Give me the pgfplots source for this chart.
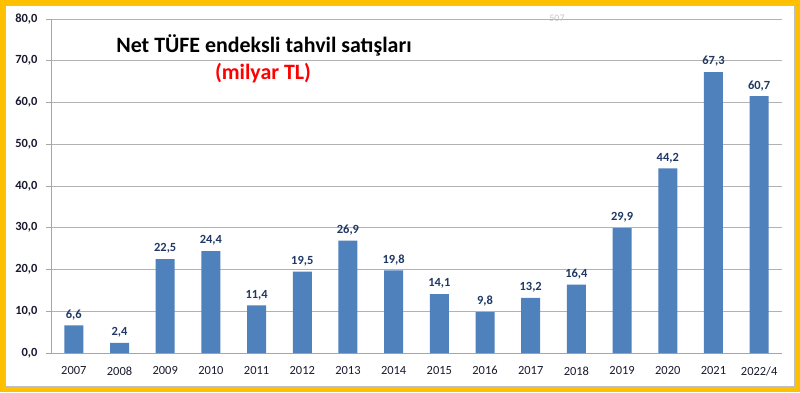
\documentclass[border=0pt]{standalone}
\usepackage{pgfplots}
\pgfplotsset{compat=1.18}
\usepackage{fontspec}
\setmainfont{Carlito}
\definecolor{frameor}{HTML}{FFC000}
\definecolor{barblue}{HTML}{4F81BD}
\definecolor{lblblue}{HTML}{1F3864}
\definecolor{ticktxt}{HTML}{1A1A2E}
\begin{document}
\begin{tikzpicture}[x=1bp,y=1bp]
\fill[frameor] (0,0) rectangle (800,392);
\fill[white] (5,5) rectangle (795,387);
\draw[gray!50,line width=0.8bp] (5.5,5.5) rectangle (794.5,386.5);
\begin{axis}[
  at={(51bp,39bp)}, anchor=south west,
  scale only axis, width=731bp, height=334bp,
  xmin=-0.5, xmax=15.5, ymin=0, ymax=80,
  ytick={0,10,...,80},
  ymajorgrids, grid style={gray!60, line width=0.8bp},
  axis x line*=bottom, axis y line*=left,
  axis line style={gray!70, line width=0.8bp},
  x axis line style={-}, y axis line style={-},
  xtick={0,...,15},
  xticklabels={2007,2008,2009,2010,2011,2012,2013,2014,2015,2016,2017,2018,2019,2020,2021,2022/4},
  extra x ticks={-0.5,0.5,...,15.5}, extra x tick labels={},
  extra x tick style={major tick length=5bp, tick style={gray!70, line width=0.8bp}, grid=none},
  major x tick style={draw=none},
  major tick length=5bp,
  tick style={gray!70, line width=0.8bp},
  tick align=outside,
  x tick label style={font=\fontsize{12.5}{14}\selectfont, text=ticktxt, yshift=-5bp},
  y tick label style={font=\bfseries\fontsize{12.5}{14}\selectfont, text=ticktxt, xshift=-5bp, /pgf/number format/.cd, fixed, fixed zerofill, precision=1, use comma},
  /pgf/number format/assume math mode=true,
  ybar, bar width=19bp,
  nodes near coords={\pgfmathprintnumber[fixed, fixed zerofill, precision=1, use comma]{\pgfplotspointmeta}},
  point meta=explicit,
  every node near coord/.append style={font=\bfseries\fontsize{12.5}{14}\selectfont, text=lblblue, yshift=2bp},
  clip=false,
]
\addplot[fill=barblue, draw=none] table[meta=m] {
x y m
0 6.6 6.6
1 2.4 2.4
2 22.5 22.5
3 24.4 24.4
4 11.4 11.4
5 19.5 19.5
6 26.9 26.9
7 19.8 19.8
8 14.1 14.1
9 9.8 9.8
10 13.2 13.2
11 16.4 16.4
12 29.9 29.9
13 44.2 44.2
14 67.3 67.3
15 61.5 60.7
};
\end{axis}
\node[font=\bfseries\fontsize{22}{25}\selectfont] at (264,347) {Net TÜFE endeksli tahvil satışları};
\node[font=\bfseries\fontsize{22}{25}\selectfont, text=red] at (263,319) {(milyar TL)};
\node[font=\fontsize{10}{12}\selectfont, text=gray!45] at (557,374) {507};
\end{tikzpicture}
\end{document}
